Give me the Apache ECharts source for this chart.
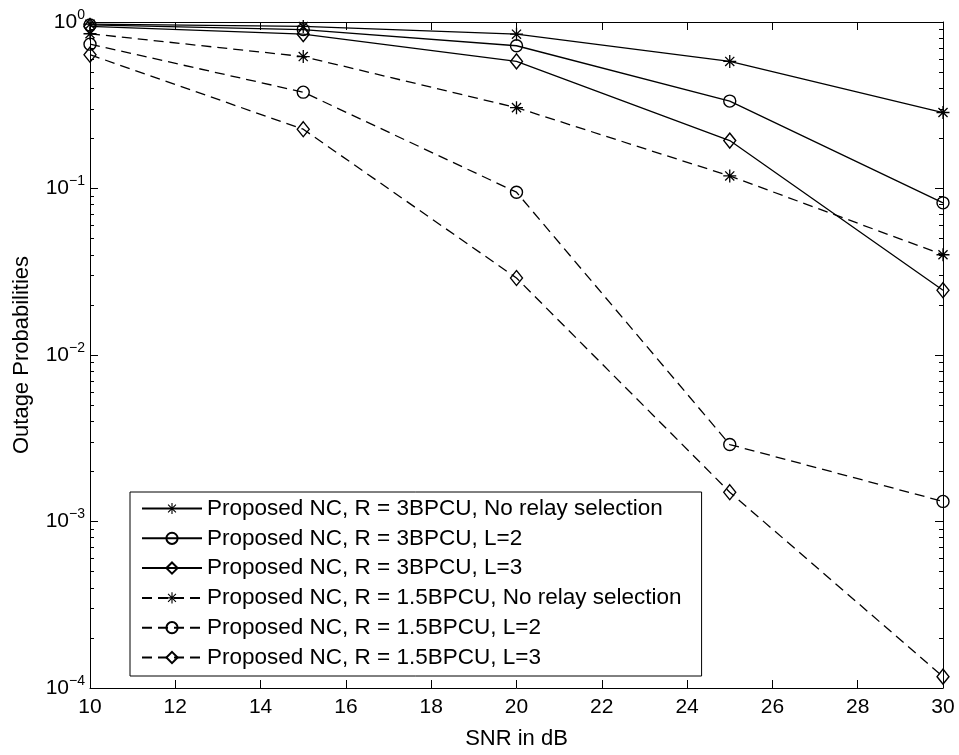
<!DOCTYPE html>
<html lang="en">
<head>
    <meta charset="UTF-8">
    <title>Outage Probabilities</title>
    <script src="https://cdn.jsdelivr.net/npm/echarts@6/dist/echarts.min.js"></script>
    <style>
html, body { margin:0; padding:0; background:#fff; }
#chart { width:959px; height:755px; }
    </style>
</head>
<body>
<div id="chart"></div>
<script type="text/javascript">
    // data
    var snr = [10, 15, 20, 25, 30];
    var xTicks = [10, 12, 14, 16, 18, 20, 22, 24, 26, 28, 30];
    var r3NoSel = [0.97, 0.94, 0.845, 0.58, 0.286];
    var r3L2 = [0.96, 0.90, 0.72, 0.335, 0.082];
    var r3L3 = [0.94, 0.845, 0.58, 0.194, 0.0245];
    var r15NoSel = [0.85, 0.62, 0.306, 0.119, 0.040];
    var r15L2 = [0.736, 0.379, 0.095, 0.0029, 0.00132];
    var r15L3 = [0.636, 0.227, 0.029, 0.0015, 0.000117];
    var names = [
        'Proposed NC, R = 3BPCU, No relay selection',
        'Proposed NC, R = 3BPCU, L=2',
        'Proposed NC, R = 3BPCU, L=3',
        'Proposed NC, R = 1.5BPCU, No relay selection',
        'Proposed NC, R = 1.5BPCU, L=2',
        'Proposed NC, R = 1.5BPCU, L=3'
    ];

    // minor ticks of the log axis: 2..9 x 10^k
    var minorTicks = [];
    for (var k = -4; k < 0; k++) {
        for (var m = 2; m <= 9; m++) minorTicks.push(+(m * Math.pow(10, k)).toPrecision(3));
    }

    var font = '"Liberation Sans", Arial, Helvetica, sans-serif';
    // matlab-like asterisk
    var star = 'path://M9 0H11V20H9Z M0 9H20V11H0Z M2.3 3.7L3.7 2.3L17.7 16.3L16.3 17.7Z M16.3 2.3L17.7 3.7L3.7 17.7L2.3 16.3Z';

    function pairs(ys) {
        return snr.map(function (x, i) { return [x, ys[i]]; });
    }

    function makeSeries(name, ys, symbol, size, dashed) {
        return {
            name: name,
            type: 'line',
            data: pairs(ys),
            symbol: symbol,
            symbolSize: size,
            showAllSymbol: true,
            lineStyle: {color: '#000', width: 1.3, type: dashed ? [10, 6] : 'solid'},
            itemStyle: {
                color: symbol === star ? '#000' : 'rgba(255,255,255,0)',
                borderColor: '#000',
                borderWidth: symbol === star ? 0 : 1.4
            },
            emphasis: {disabled: true},
            animation: false
        };
    }

    function yLabel(v) {
        var e = Math.round(Math.log10(v));
        return '{b|10}{s|' + (e === 0 ? '0' : '\u2212' + (-e)) + '}';
    }

    var logBase = {
        type: 'log',
        logBase: 10,
        min: 0.0001,
        max: 1,
        gridIndex: 0
    };

    var myChart = echarts.init(document.getElementById('chart'));
    myChart.setOption({
        animation: false,
        textStyle: {fontFamily: font},
        grid: {left: 90, right: 16, top: 22, bottom: 62},
        legend: {
            orient: 'vertical',
            left: 130,
            top: 492,
            padding: [5, 20, 7, 11],
            itemWidth: 60,
            itemHeight: 14,
            itemGap: 6.8,
            borderColor: '#000',
            borderWidth: 1,
            backgroundColor: '#fff',
            textStyle: {fontFamily: font, fontSize: 22.5, color: '#000', lineHeight: 22},
            data: names
        },
        xAxis: [{
            type: 'value',
            min: 10,
            max: 30,
            interval: 2,
            name: 'SNR in dB',
            nameLocation: 'middle',
            nameGap: 40,
            nameTextStyle: {fontSize: 22, color: '#000', fontFamily: font},
            axisLine: {lineStyle: {color: '#000', width: 1}},
            axisTick: {inside: true, length: 8, lineStyle: {color: '#000'}},
            axisLabel: {fontSize: 21, color: '#000', margin: 9, fontFamily: font},
            splitLine: {show: false}
        }, {
            type: 'value',
            position: 'top',
            min: 10,
            max: 30,
            interval: 2,
            axisLine: {show: true, lineStyle: {color: '#000', width: 1}},
            axisTick: {inside: true, length: 8, lineStyle: {color: '#000'}},
            axisLabel: {show: false},
            splitLine: {show: false}
        }],
        yAxis: [
            Object.assign({}, logBase, {
                position: 'left',
                name: 'Outage Probabilities',
                nameLocation: 'middle',
                nameGap: 57,
                nameTextStyle: {fontSize: 22, color: '#000', fontFamily: font},
                axisLine: {show: true, lineStyle: {color: '#000', width: 1}},
                axisTick: {inside: true, length: 8, lineStyle: {color: '#000'}},
                axisLabel: {
                    margin: 5,
                    formatter: yLabel,
                    rich: {
                        b: {fontSize: 21, color: '#000', fontFamily: font},
                        s: {fontSize: 14, color: '#000', fontFamily: font, padding: [0, 0, 14, 0]}
                    }
                },
                splitLine: {show: false}
            }),
            Object.assign({}, logBase, {
                position: 'left',
                axisLine: {show: false},
                axisTick: {inside: true, length: 4, customValues: minorTicks, lineStyle: {color: '#000'}},
                axisLabel: {show: false},
                splitLine: {show: false}
            }),
            Object.assign({}, logBase, {
                position: 'right',
                axisLine: {show: true, lineStyle: {color: '#000', width: 1}},
                axisTick: {inside: true, length: 8, lineStyle: {color: '#000'}},
                axisLabel: {show: false},
                splitLine: {show: false}
            }),
            Object.assign({}, logBase, {
                position: 'right',
                axisLine: {show: false},
                axisTick: {inside: true, length: 4, customValues: minorTicks, lineStyle: {color: '#000'}},
                axisLabel: {show: false},
                splitLine: {show: false}
            })
        ],
        series: [
            makeSeries(names[0], r3NoSel, star, 13, false),
            makeSeries(names[1], r3L2, 'circle', 12, false),
            makeSeries(names[2], r3L3, 'diamond', [12, 15], false),
            makeSeries(names[3], r15NoSel, star, 13, true),
            makeSeries(names[4], r15L2, 'circle', 12, true),
            makeSeries(names[5], r15L3, 'diamond', [12, 15], true)
        ]
    });
</script>
</body>
</html>
